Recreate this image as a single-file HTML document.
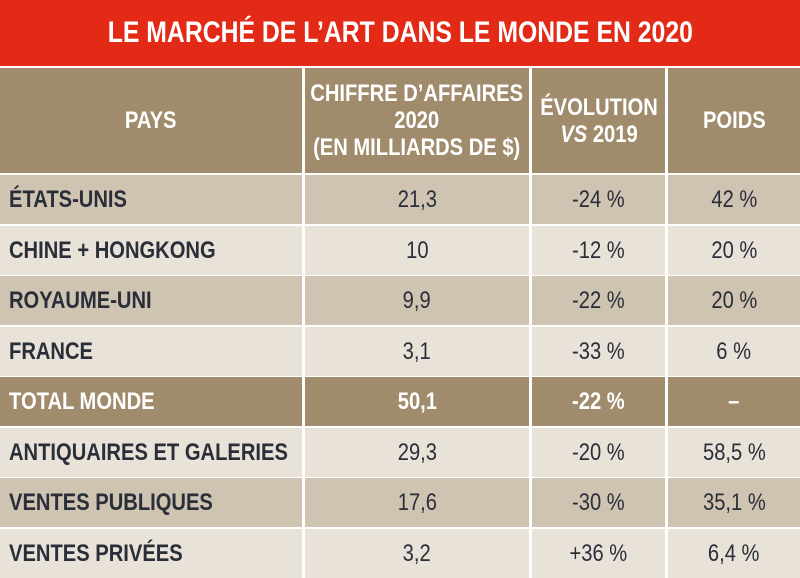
<!DOCTYPE html>
<html><head><meta charset="utf-8"><style>
*{margin:0;padding:0;box-sizing:border-box}
body{width:800px;height:578px;background:#fff;position:relative;overflow:hidden;font-family:"Liberation Sans",sans-serif;font-weight:bold;color:#2a2e38}
.t{position:absolute;left:0;top:0;width:800px;height:66px;background:#e32a16;color:#fff;font-size:29.5px;display:flex;align-items:center;justify-content:center}
.c{position:absolute;display:flex;align-items:center;justify-content:center;font-size:24px;text-align:center}
.c span,.t span{display:inline-block;white-space:nowrap;transform:scaleX(0.84)}
.l{justify-content:flex-start;padding-left:9px}
.l span{transform-origin:left center}
.h{background:#a08c6c;color:#fff;line-height:27px}
.d{background:#cfc3b2}
.w{background:#e9e2d8}
.n{font-weight:normal}
.tot{background:#a08c6c;color:#fff}
</style></head><body>
<div class="t"><span>LE MARCHÉ DE L’ART DANS LE MONDE EN 2020</span></div>
<div class="c h" style="left:0;top:68px;width:302px;height:105px"><span>PAYS</span></div>
<div class="c h" style="left:305px;top:68px;width:224px;height:105px"><span>CHIFFRE D’AFFAIRES<br>2020<br>(EN MILLIARDS DE $)</span></div>
<div class="c h" style="left:532px;top:68px;width:133px;height:105px"><span>ÉVOLUTION<br><i>VS</i>&nbsp;2019</span></div>
<div class="c h" style="left:668px;top:68px;width:132px;height:105px"><span>POIDS</span></div>
<script>
const rows=[["ÉTATS-UNIS","21,3","-24 %","42 %","d"],["CHINE + HONGKONG","10","-12 %","20 %","w"],["ROYAUME-UNI","9,9","-22 %","20 %","d"],["FRANCE","3,1","-33 %","6 %","w"],["TOTAL MONDE","50,1","-22 %","–","tot"],["ANTIQUAIRES ET GALERIES","29,3","-20 %","58,5 %","w"],["VENTES PUBLIQUES","17,6","-30 %","35,1 %","d"],["VENTES PRIVÉES","3,2","+36 %","6,4 %","w"]];
const tops=[175,226,276,327,377,428,478,529];
const cols=[[0,302],[305,224],[532,133],[668,132]];
let h="";
rows.forEach((r,i)=>{cols.forEach((c,j)=>{h+=`<div class="c ${r[4]} ${j==0?'l':''} ${j>0&&r[4]!='tot'?'n':''}" style="left:${c[0]}px;top:${tops[i]}px;width:${c[1]}px;height:49px"><span>${r[j]}</span></div>`})});
document.write(h);
</script>
</body></html>
